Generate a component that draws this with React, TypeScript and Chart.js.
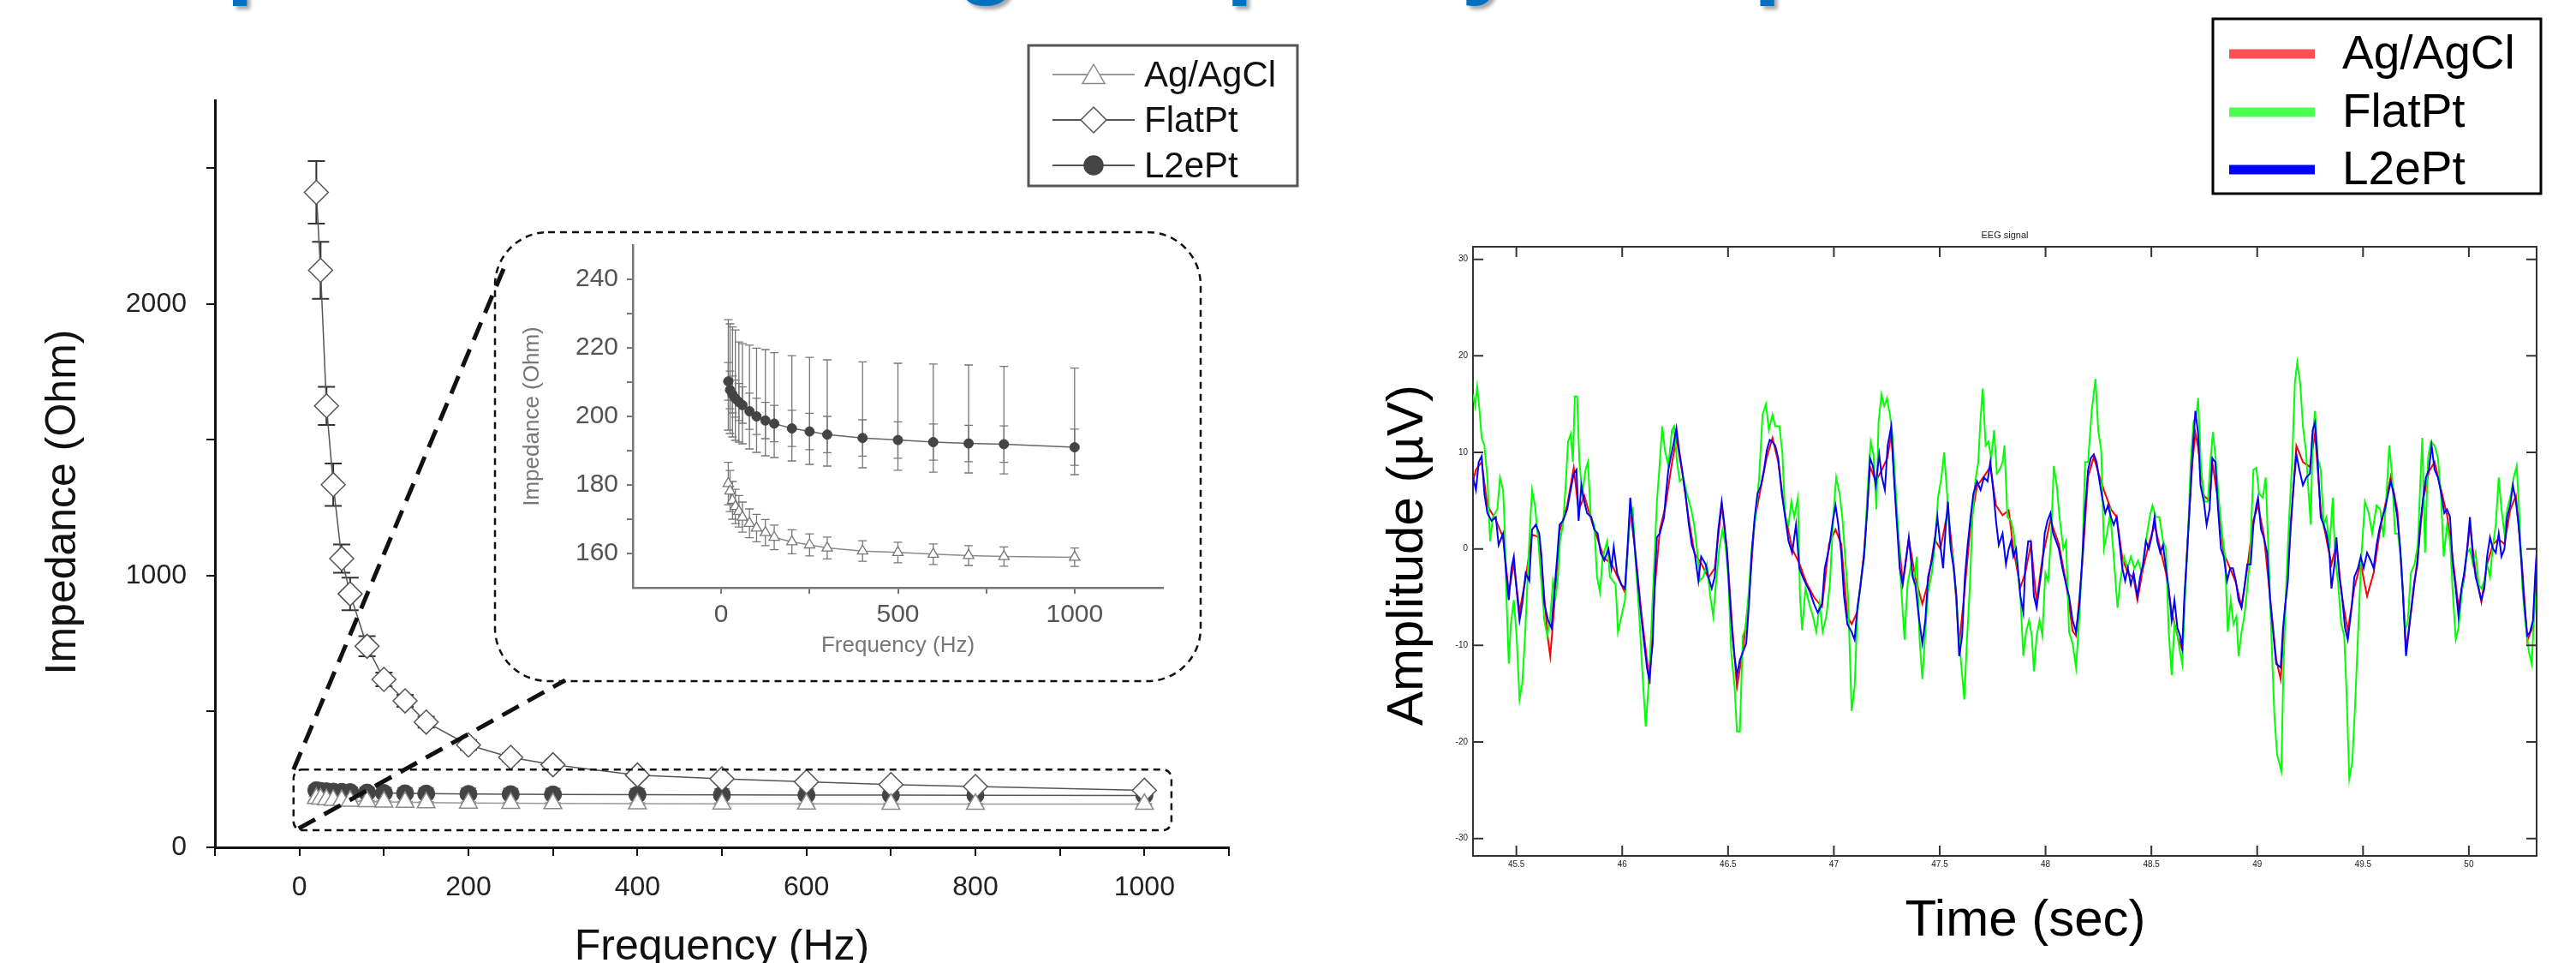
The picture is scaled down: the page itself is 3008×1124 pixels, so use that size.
import React, { useEffect, useRef } from "react";
import { Chart, registerables } from "chart.js";

Chart.register(...registerables);

const W = 3008;
const H = 1124;
const FONT = '"Liberation Sans", Arial, Helvetica, sans-serif';

// ---------------- Impedance (left chart + inset) ----------------
const PAGE_TITLE = "Impedance and signal quality comparison";
const seriesNames = ["Ag/AgCl", "FlatPt", "L2ePt"];
const mainXTitle = "Frequency (Hz)";
const mainYTitle = "Impedance (Ohm)";
const freqHz = [20, 25, 32, 40, 50, 60, 80, 100, 125, 150, 200, 250, 300, 400, 500, 600, 700, 800, 1000];
const flatPt = [2411, 2124, 1625, 1335, 1063, 933, 740, 618, 539, 461, 377, 331, 304, 266, 252, 241, 231, 224, 210];
const flatPtSd = [115, 105, 70, 78, 52, 60, 37, 25, 22, 20, 18, 16, 15, 13, 12, 12, 11, 11, 10];
const agAgCl = [180.4, 178.2, 175.5, 173.7, 172.3, 170.6, 168.8, 167.4, 166.1, 164.7, 163.4, 162.5, 161.6, 160.7, 160.3, 159.8, 159.4, 159.1, 158.9];
const agAgClSd = [6.2, 6.0, 5.5, 5.0, 4.6, 4.4, 4.2, 4.0, 3.8, 3.6, 3.5, 3.2, 3.2, 3.0, 3.0, 3.0, 2.9, 2.8, 2.7];
const l2ePt = [210.2, 207.7, 206.4, 205.2, 204.2, 203.3, 201.5, 200.0, 198.8, 197.9, 196.5, 195.6, 194.7, 193.7, 193.1, 192.5, 192.1, 191.9, 191.0];
const l2ePtLow = [196, 195, 194, 193, 192.5, 192, 190.5, 189.5, 188.5, 188, 187, 186, 185.5, 185, 184.3, 183.7, 183.5, 183.2, 183];
const l2ePtHigh = [228.2, 227, 226.1, 225.2, 221.7, 221.2, 220.8, 219.9, 219.5, 218.6, 217.7, 217.2, 216.5, 215.9, 215.5, 215.3, 215.0, 214.6, 214.1];
const l2ePtSd = [5.5, 5.5, 5.4, 5.4, 5.4, 5.3, 5.3, 5.3, 5.3, 5.3, 5.3, 5.3, 5.3, 5.3, 5.3, 5.3, 5.3, 5.3, 5.3];

const mainXTicks = [-100, 0, 100, 200, 300, 400, 500, 600, 700, 800, 900, 1000, 1100];
const mainXLabels = [0, 200, 400, 600, 800, 1000];
const mainYTicks = [0, 500, 1000, 1500, 2000, 2500];
const mainYLabels = [0, 1000, 2000];
const insetXTicks = [0, 250, 500, 750, 1000];
const insetXLabels = [0, 500, 1000];
const insetYTicks = [160, 170, 180, 190, 200, 210, 220, 230, 240];
const insetYLabels = [160, 180, 200, 220, 240];
const zoomRegion = { xMin: -7, xMax: 1032, yMin: 63, yMax: 286 };

// ---------------- EEG (right chart) ----------------
const eegNames = ["Ag/AgCl", "FlatPt", "L2ePt"];
const eegXTitle = "Time (sec)";
const eegYTitle = "Amplitude (µV)";
const eegXTicks = [45.5, 46, 46.5, 47, 47.5, 48, 48.5, 49, 49.5, 50];
const eegYTicks = [-30, -20, -10, 0, 10, 20, 30];

const eegL2ePt: [number, number][] = [
  [45.295, 7.4], [45.309, 6.1], [45.322, 9.0], [45.336, 9.6], [45.349, 5.7], [45.363, 3.7], [45.383, 2.9], [45.403, 3.3],
  [45.416, 0.4], [45.437, 1.6], [45.45, -2.0], [45.464, -5.3], [45.477, -2.0], [45.488, -0.8], [45.497, -3.3], [45.515, -7.4],
  [45.528, -5.7], [45.544, -2.5], [45.561, -3.3], [45.574, 2.0], [45.592, 2.5], [45.608, 1.6], [45.619, -0.8], [45.632, -5.7],
  [45.65, -7.4], [45.666, -8.2], [45.679, -4.5], [45.693, -0.8], [45.704, 2.5], [45.72, 2.9], [45.74, 4.1], [45.753, 5.7],
  [45.771, 7.8], [45.784, 8.2], [45.794, 2.9], [45.807, 6.6], [45.821, 4.9], [45.834, 3.7], [45.854, 3.3], [45.868, 2.0],
  [45.884, 1.6], [45.898, -0.4], [45.915, -1.2], [45.935, 0], [45.949, -2.0], [45.96, 0.2], [45.976, -2.5], [45.996, -3.7],
  [46.013, -4.1], [46.027, 0.8], [46.038, 5.3], [46.05, 2.5], [46.063, -0.8], [46.077, -4.1], [46.09, -7.0], [46.104, -9.8],
  [46.117, -12.3], [46.127, -13.5], [46.144, -9.8], [46.154, -3.3], [46.164, 1.2], [46.178, 1.6], [46.198, 3.3], [46.205, 5.3],
  [46.218, 8.2], [46.232, 9.8], [46.243, 10.9], [46.256, 12.5], [46.269, 10.2], [46.283, 8.2], [46.299, 5.7], [46.315, 2.5],
  [46.329, 0.4], [46.342, -0.4], [46.36, -3.3], [46.373, -0.8], [46.394, -1.6], [46.407, -2.9], [46.423, -4.1], [46.437, -2.9],
  [46.454, 2.0], [46.47, 4.9], [46.481, 2.9], [46.495, -0.4], [46.508, -4.9], [46.518, -8.2], [46.528, -10.7], [46.542, -13.1],
  [46.556, -11.5], [46.57, -10.7], [46.586, -9.8], [46.599, -5.7], [46.612, -0.4], [46.626, 3.3], [46.639, 5.7], [46.656, 6.6],
  [46.67, 8.2], [46.683, 10.2], [46.697, 11.3], [46.71, 11.1], [46.723, 10.7], [46.737, 9.4], [46.754, 5.7], [46.77, 3.3],
  [46.786, 0.8], [46.803, -0.4], [46.821, 2.5], [46.837, -2.0], [46.853, -2.9], [46.87, -3.7], [46.888, -4.5], [46.906, -5.7],
  [46.924, -6.6], [46.944, -5.7], [46.957, -2.0], [46.977, 0], [46.995, 2.9], [47.008, 4.5], [47.021, 2.5], [47.035, -0.4],
  [47.048, -4.9], [47.064, -7.8], [47.084, -8.6], [47.098, -9.4], [47.111, -6.1], [47.124, -4.1], [47.142, -0.8], [47.158, 4.1],
  [47.171, 9.4], [47.184, 8.6], [47.198, 6.6], [47.214, 9.8], [47.227, 7.4], [47.241, 6.1], [47.254, 10.7], [47.271, 12.7],
  [47.285, 7.0], [47.298, 2.5], [47.311, -2.0], [47.325, -3.7], [47.338, -1.6], [47.354, 1.2], [47.372, -2.9], [47.385, -3.7],
  [47.401, -7.0], [47.418, -9.8], [47.432, -7.4], [47.445, -2.9], [47.463, -1.2], [47.476, 0.8], [47.489, 3.3], [47.503, 0.4],
  [47.516, -2.0], [47.529, 2.5], [47.539, 4.9], [47.552, 0], [47.566, -2.0], [47.579, -4.9], [47.592, -11.1], [47.606, -9.0],
  [47.619, -2.9], [47.632, 0.4], [47.646, 3.3], [47.659, 5.7], [47.676, 7.0], [47.693, 6.1], [47.709, 7.4], [47.726, 7.0],
  [47.739, 9.0], [47.753, 6.1], [47.766, 2.9], [47.779, 0.4], [47.797, 1.6], [47.813, -1.6], [47.826, 0], [47.837, 0.8],
  [47.848, -0.8], [47.861, 0], [47.881, -4.9], [47.895, -6.6], [47.904, -2.0], [47.918, 0.8], [47.931, 0.8], [47.945, -4.9],
  [47.958, -6.1], [47.972, -3.7], [47.985, -1.6], [47.996, 1.6], [48.009, 2.9], [48.023, 3.7], [48.036, 1.6], [48.05, 0.8],
  [48.063, 0], [48.08, -2.0], [48.097, -3.7], [48.111, -4.9], [48.128, -7.4], [48.144, -8.6], [48.16, -5.7], [48.174, -0.8],
  [48.187, 4.1], [48.201, 8.2], [48.214, 9.4], [48.228, 9.8], [48.241, 9.0], [48.255, 7.0], [48.268, 5.3], [48.282, 3.7],
  [48.295, 4.5], [48.309, 3.3], [48.322, 2.5], [48.336, 3.3], [48.349, 0.8], [48.363, -2.0], [48.376, -3.3], [48.389, -2.0],
  [48.403, -3.7], [48.416, -2.5], [48.434, -4.9], [48.447, -2.9], [48.461, -1.6], [48.474, 0.8], [48.488, 0], [48.501, 1.2],
  [48.515, 3.3], [48.528, 0.8], [48.542, -0.4], [48.555, 0.4], [48.569, -2.0], [48.582, -4.1], [48.596, -7.4], [48.609, -5.3],
  [48.623, -8.2], [48.636, -9.0], [48.646, -10.2], [48.656, -4.9], [48.67, 0], [48.683, 5.3], [48.694, 9.8], [48.708, 14.3],
  [48.721, 11.9], [48.732, 6.6], [48.748, 4.9], [48.761, 2.5], [48.775, 4.1], [48.788, 9.4], [48.802, 9.0], [48.815, 4.1],
  [48.829, 0], [48.842, -0.8], [48.858, -3.3], [48.872, -2.0], [48.885, -2.0], [48.899, -3.3], [48.912, -5.3], [48.926, -6.1],
  [48.939, -4.1], [48.953, -1.6], [48.969, -1.6], [48.982, 2.5], [48.996, 4.5], [49.004, 5.3], [49.018, 2.0], [49.031, 1.2],
  [49.047, -0.4], [49.061, -5.3], [49.077, -9.0], [49.09, -11.9], [49.111, -12.3], [49.122, -8.2], [49.131, -6.1], [49.145, -3.3],
  [49.158, 2.5], [49.172, 6.6], [49.185, 9.8], [49.199, 8.2], [49.216, 6.6], [49.232, 7.4], [49.249, 7.8], [49.262, 12.3],
  [49.273, 13.1], [49.286, 9.0], [49.3, 3.3], [49.314, 2.5], [49.327, 1.6], [49.341, -0.4], [49.351, -4.1], [49.365, -1.6],
  [49.374, 1.2], [49.388, -2.9], [49.401, -4.9], [49.415, -8.2], [49.428, -9.4], [49.446, -6.1], [49.459, -2.9], [49.476, -2.0],
  [49.489, -0.8], [49.503, -2.0], [49.519, -0.4], [49.536, -1.2], [49.55, -2.0], [49.564, 0.4], [49.577, 2.0], [49.591, 3.3],
  [49.604, 4.1], [49.618, 5.7], [49.631, 7.0], [49.645, 5.7], [49.662, 3.3], [49.676, 0], [49.689, -4.9], [49.703, -11.1],
  [49.716, -8.6], [49.73, -5.7], [49.743, -3.3], [49.757, -1.6], [49.77, 2.5], [49.784, 5.3], [49.797, 7.4], [49.811, 8.2],
  [49.824, 10.7], [49.838, 8.2], [49.854, 7.4], [49.87, 5.7], [49.884, 3.7], [49.897, 4.1], [49.911, 3.3], [49.924, -1.6],
  [49.938, -4.1], [49.951, -7.0], [49.965, -4.1], [49.978, -2.5], [49.992, 0], [50.005, 3.3], [50.019, -0.8], [50.032, -2.9],
  [50.046, -4.1], [50.059, -5.3], [50.073, -4.1], [50.086, -0.8], [50.1, 1.2], [50.114, 0], [50.127, -0.4], [50.141, 1.6],
  [50.154, -0.8], [50.168, 0], [50.181, 3.3], [50.195, 4.5], [50.208, 6.6], [50.222, 4.9], [50.235, 2.5], [50.249, -1.6],
  [50.262, -5.7], [50.276, -9.0], [50.289, -8.6], [50.303, -7.4], [50.314, -2.5], [50.32, -0.4],
];

const eegFlatPt: [number, number][] = [
  [45.295, 16.0], [45.305, 14.8], [45.315, 16.8], [45.326, 14.3], [45.336, 11.5], [45.349, 10.7], [45.363, 7.4], [45.376, 0.8],
  [45.389, 3.3], [45.41, 4.1], [45.423, 7.4], [45.437, 6.1], [45.443, 3.3], [45.453, -4.9], [45.464, -11.9], [45.474, -7.8],
  [45.488, -5.3], [45.501, -9.0], [45.515, -15.6], [45.528, -13.9], [45.542, -8.6], [45.555, -2.0], [45.565, 2.5], [45.574, 6.1],
  [45.588, 4.5], [45.605, 0.4], [45.619, -3.7], [45.632, -7.4], [45.646, -9.0], [45.659, -7.4], [45.673, -3.3], [45.686, -4.9],
  [45.695, -3.3], [45.706, 0.8], [45.72, 2.5], [45.733, 6.6], [45.744, 11.1], [45.757, 11.9], [45.767, 9.0], [45.776, 15.8],
  [45.787, 15.8], [45.798, 9.0], [45.811, 5.7], [45.827, 8.2], [45.838, 9.0], [45.852, 3.3], [45.868, 2.5], [45.881, -2.9],
  [45.895, -4.5], [45.908, -0.8], [45.929, 0.8], [45.942, -2.9], [45.956, -3.3], [45.969, -3.7], [45.98, -8.6], [45.996, -7.0],
  [46.013, -5.3], [46.024, -0.8], [46.036, 3.3], [46.05, 4.1], [46.063, -1.2], [46.081, -7.0], [46.094, -12.3], [46.111, -18.4],
  [46.124, -14.3], [46.137, -8.6], [46.151, -1.6], [46.164, 4.9], [46.175, 8.2], [46.189, 12.7], [46.202, 10.2], [46.218, 8.6],
  [46.235, 12.3], [46.245, 12.7], [46.259, 9.0], [46.272, 7.0], [46.288, 7.4], [46.306, 5.7], [46.326, 4.1], [46.34, 2.5],
  [46.353, 0], [46.367, -3.3], [46.383, -2.9], [46.4, -1.6], [46.416, -4.9], [46.43, -7.0], [46.441, -4.1], [46.458, 0],
  [46.474, 2.0], [46.488, 0.4], [46.501, -2.9], [46.515, -10.7], [46.531, -14.3], [46.542, -18.9], [46.556, -18.9], [46.57, -9.0],
  [46.583, -8.2], [46.599, -4.1], [46.612, 0], [46.63, 3.3], [46.647, 7.4], [46.663, 13.9], [46.679, 15.0], [46.693, 12.3],
  [46.71, 13.9], [46.723, 12.7], [46.743, 12.7], [46.757, 9.8], [46.77, 3.3], [46.786, 2.5], [46.799, 4.9], [46.813, 3.3],
  [46.83, 5.3], [46.84, -4.9], [46.85, -8.4], [46.866, -4.1], [46.884, -5.7], [46.901, -7.0], [46.917, -8.6], [46.933, -5.7],
  [46.947, -8.6], [46.964, -7.0], [46.981, -3.7], [46.997, 3.3], [47.011, 7.4], [47.027, 5.7], [47.04, 3.3], [47.053, -0.8],
  [47.067, -4.9], [47.084, -16.8], [47.098, -14.3], [47.111, -6.6], [47.128, -3.3], [47.144, -0.8], [47.158, 5.7], [47.174, 11.1],
  [47.187, 9.8], [47.201, 4.1], [47.211, 13.1], [47.225, 16.0], [47.238, 14.8], [47.251, 15.6], [47.265, 13.9], [47.278, 11.5],
  [47.291, 6.6], [47.305, 1.6], [47.318, -4.1], [47.334, -9.4], [47.348, -3.7], [47.365, -1.6], [47.378, -3.3], [47.392, -0.8],
  [47.405, -9.4], [47.418, -13.5], [47.432, -8.6], [47.445, -4.5], [47.463, -2.5], [47.479, 0.8], [47.492, 5.3], [47.508, 7.4],
  [47.521, 10.0], [47.535, 5.7], [47.548, 0.8], [47.561, -0.8], [47.575, -4.1], [47.592, -9.4], [47.606, -13.1], [47.616, -15.6],
  [47.628, -9.8], [47.642, -4.1], [47.655, 3.3], [47.668, 7.0], [47.682, 9.0], [47.693, 13.5], [47.703, 16.6], [47.717, 10.7],
  [47.73, 11.1], [47.743, 9.4], [47.757, 12.3], [47.77, 7.8], [47.783, 8.2], [47.797, 9.0], [47.806, 10.7], [47.82, 3.3],
  [47.837, 2.9], [47.85, 1.6], [47.868, -2.0], [47.881, -4.9], [47.895, -11.1], [47.908, -8.6], [47.922, -7.4], [47.935, -9.0],
  [47.945, -12.7], [47.958, -9.0], [47.972, -7.4], [47.985, -9.0], [47.999, -2.5], [48.012, -3.3], [48.026, 1.2], [48.039, 8.6],
  [48.053, 6.6], [48.066, 3.3], [48.084, 0], [48.097, 0.8], [48.111, -8.6], [48.128, -9.8], [48.144, -12.3], [48.16, -7.0],
  [48.174, -0.8], [48.187, 9.0], [48.201, 9.0], [48.218, 14.3], [48.236, 17.6], [48.249, 12.3], [48.263, 10.2], [48.276, 0],
  [48.29, 1.6], [48.306, 3.7], [48.322, -0.8], [48.34, -6.1], [48.353, -3.3], [48.371, -0.8], [48.387, -2.0], [48.403, -0.8],
  [48.42, -2.0], [48.438, -1.2], [48.454, -2.5], [48.474, 0.8], [48.492, 3.3], [48.505, 4.5], [48.522, 3.3], [48.538, 3.3],
  [48.555, 0.8], [48.569, 0], [48.582, -8.6], [48.596, -13.1], [48.609, -7.8], [48.623, -9.0], [48.636, -10.7], [48.646, -11.9],
  [48.659, -4.9], [48.672, 0.8], [48.686, 9.0], [48.699, 13.1], [48.713, 13.9], [48.721, 15.6], [48.735, 8.2], [48.751, 4.9],
  [48.767, 4.9], [48.78, 9.4], [48.791, 12.1], [48.805, 9.0], [48.818, 5.3], [48.834, 1.6], [48.848, -0.8], [48.861, -8.6],
  [48.875, -5.3], [48.888, -7.8], [48.902, -7.0], [48.912, -11.1], [48.926, -8.6], [48.939, -7.0], [48.953, -4.1], [48.966, -0.8],
  [48.982, 8.2], [48.996, 8.4], [49.009, 5.7], [49.027, 5.3], [49.04, 7.4], [49.054, -0.8], [49.067, -9.0], [49.081, -17.2],
  [49.094, -21.3], [49.114, -23.0], [49.124, -12.3], [49.138, -3.3], [49.151, 3.3], [49.165, 9.0], [49.178, 17.2], [49.189, 19.3],
  [49.203, 17.2], [49.216, 12.7], [49.23, 10.2], [49.243, 5.7], [49.253, 2.5], [49.262, 11.5], [49.273, 14.3], [49.286, 9.4],
  [49.3, 8.2], [49.314, 2.5], [49.327, 3.3], [49.341, 0], [49.357, 5.3], [49.368, -0.8], [49.381, -3.3], [49.397, -7.8],
  [49.411, -9.0], [49.422, -14.8], [49.435, -23.8], [49.449, -22.1], [49.462, -16.4], [49.476, -9.0], [49.492, -0.8], [49.509, 4.9],
  [49.527, 3.7], [49.543, 1.6], [49.564, 4.5], [49.581, 4.1], [49.597, 1.2], [49.611, 5.7], [49.624, 10.7], [49.638, 7.4],
  [49.651, 1.6], [49.665, 1.6], [49.681, -1.6], [49.699, -8.6], [49.712, -7.4], [49.726, -2.5], [49.743, -1.6], [49.759, 0.4],
  [49.77, 6.6], [49.78, 11.5], [49.793, -0.4], [49.807, 9.4], [49.82, 11.1], [49.838, 10.7], [49.854, 9.4], [49.868, 5.7],
  [49.881, -0.8], [49.897, 2.5], [49.911, 0.8], [49.924, -4.5], [49.938, -9.4], [49.951, -8.2], [49.965, -4.9], [49.978, -2.5],
  [49.992, -0.4], [50.005, 0], [50.019, -1.6], [50.032, -0.4], [50.046, -3.7], [50.059, -4.1], [50.073, -3.3], [50.086, -1.6],
  [50.1, -2.9], [50.114, 0.4], [50.127, 2.5], [50.141, 7.4], [50.154, 4.1], [50.168, 1.6], [50.181, 4.1], [50.199, 5.7],
  [50.212, 7.4], [50.226, 8.6], [50.239, 3.3], [50.253, -4.1], [50.266, -7.4], [50.284, -10.7], [50.297, -11.9], [50.307, -7.4],
  [50.32, -3.7],
];

const eegAgAgCl: [number, number][] = [
  [45.295, 7.0], [45.309, 8.2], [45.336, 9.0], [45.363, 4.5], [45.403, 3.0], [45.437, 1.2], [45.464, -4.5], [45.488, -1.5],
  [45.515, -6.5], [45.544, -3.0], [45.574, 1.5], [45.608, 1.2], [45.632, -5.0], [45.65, -9.5], [45.66, -11.1], [45.679, -6.0],
  [45.704, 1.8], [45.74, 4.5], [45.771, 8.4], [45.794, 4.0], [45.821, 5.5], [45.854, 3.0], [45.884, 1.0], [45.915, -1.0],
  [45.949, -1.5], [45.976, -2.8], [46.013, -4.5], [46.038, 4.0], [46.063, -0.5], [46.09, -6.5], [46.117, -11.5], [46.13, -14.0],
  [46.154, -4.0], [46.178, 2.0], [46.205, 4.5], [46.232, 8.5], [46.256, 11.5], [46.283, 8.0], [46.315, 3.0], [46.342, -0.5],
  [46.373, -1.5], [46.407, -3.0], [46.437, -2.0], [46.47, 4.5], [46.495, 0], [46.518, -7.5], [46.542, -14.3], [46.57, -10.5],
  [46.599, -5.0], [46.626, 3.0], [46.656, 6.5], [46.683, 9.5], [46.71, 11.5], [46.737, 9.0], [46.77, 3.5], [46.803, 0],
  [46.837, -1.5], [46.87, -3.5], [46.906, -5.0], [46.944, -6.0], [46.977, 0.5], [47.008, 2.0], [47.035, 0.5], [47.064, -7.0],
  [47.084, -7.8], [47.111, -6.5], [47.142, -0.5], [47.171, 8.5], [47.198, 7.0], [47.227, 8.2], [47.254, 9.5], [47.271, 12.0],
  [47.298, 3.0], [47.325, -3.5], [47.354, 1.0], [47.385, -3.0], [47.418, -5.7], [47.445, -3.5], [47.476, 1.0], [47.503, 0],
  [47.539, 4.0], [47.566, -1.5], [47.592, -10.0], [47.619, -4.0], [47.646, 2.5], [47.676, 6.5], [47.709, 7.5], [47.739, 8.5],
  [47.766, 4.5], [47.797, 3.5], [47.826, 4.0], [47.848, 0], [47.881, -4.0], [47.904, -2.5], [47.931, 0.5], [47.958, -5.5],
  [47.985, -1.0], [48.023, 3.0], [48.063, 0.5], [48.097, -3.5], [48.128, -8.5], [48.144, -9.0], [48.174, -1.5], [48.201, 7.5],
  [48.228, 9.5], [48.255, 7.5], [48.282, 5.7], [48.309, 4.1], [48.336, 3.3], [48.363, -1.0], [48.389, -2.5], [48.416, -3.0],
  [48.434, -5.3], [48.461, -2.0], [48.488, 0.5], [48.515, 2.5], [48.542, 0], [48.569, -2.5], [48.596, -6.5], [48.623, -9.0],
  [48.646, -10.5], [48.67, 0.5], [48.694, 9.0], [48.708, 12.0], [48.721, 10.5], [48.748, 5.5], [48.775, 5.0], [48.788, 9.0],
  [48.815, 5.0], [48.842, -0.5], [48.872, -2.0], [48.899, -3.5], [48.926, -6.0], [48.953, -2.0], [48.982, 3.0], [49.004, 4.5],
  [49.031, 1.5], [49.061, -5.0], [49.09, -11.5], [49.111, -13.5], [49.131, -6.5], [49.158, 2.0], [49.185, 10.7], [49.216, 9.0],
  [49.249, 8.5], [49.273, 12.0], [49.3, 4.0], [49.327, 1.0], [49.351, -1.6], [49.374, 0.5], [49.401, -5.0], [49.428, -8.5],
  [49.459, -4.0], [49.489, -1.5], [49.519, -4.9], [49.55, -2.5], [49.577, 1.5], [49.604, 4.5], [49.631, 7.5], [49.662, 4.0],
  [49.689, -4.5], [49.703, -10.5], [49.73, -6.0], [49.757, -1.0], [49.784, 5.0], [49.811, 8.0], [49.838, 9.0], [49.87, 6.0],
  [49.897, 3.5], [49.924, -1.0], [49.951, -6.0], [49.978, -3.0], [50.005, 2.5], [50.032, -2.5], [50.059, -5.5], [50.086, -1.6],
  [50.114, 0.5], [50.141, 1.0], [50.168, 0.5], [50.195, 4.0], [50.222, 5.5], [50.249, -1.0], [50.276, -9.5], [50.303, -8.0],
  [50.32, -1.0],
];

// ---------------- helpers ----------------
function roundRectPath(ctx: CanvasRenderingContext2D, x: number, y: number, w: number, h: number, r: number) {
  ctx.beginPath();
  ctx.moveTo(x + r, y);
  ctx.lineTo(x + w - r, y);
  ctx.arcTo(x + w, y, x + w, y + r, r);
  ctx.lineTo(x + w, y + h - r);
  ctx.arcTo(x + w, y + h, x + w - r, y + h, r);
  ctx.lineTo(x + r, y + h);
  ctx.arcTo(x, y + h, x, y + h - r, r);
  ctx.lineTo(x, y + r);
  ctx.arcTo(x, y, x + r, y, r);
  ctx.closePath();
}

function drawMarker(ctx: CanvasRenderingContext2D, style: string, x: number, y: number, r: number, fill: string, stroke: string, lw: number) {
  ctx.beginPath();
  if (style === "triangle") {
    ctx.moveTo(x, y - r);
    ctx.lineTo(x + r * 0.866, y + r * 0.5);
    ctx.lineTo(x - r * 0.866, y + r * 0.5);
    ctx.closePath();
  } else if (style === "rectRot") {
    ctx.moveTo(x - r, y);
    ctx.lineTo(x, y - r);
    ctx.lineTo(x + r, y);
    ctx.lineTo(x, y + r);
    ctx.closePath();
  } else {
    ctx.arc(x, y, r, 0, Math.PI * 2);
  }
  ctx.fillStyle = fill;
  ctx.fill();
  ctx.lineWidth = lw;
  ctx.strokeStyle = stroke;
  ctx.stroke();
}

function drawRotatedText(ctx: CanvasRenderingContext2D, text: string, x: number, y: number, font: string, color: string, rot: number) {
  ctx.save();
  ctx.translate(x, y);
  ctx.rotate(rot);
  ctx.font = font;
  ctx.fillStyle = color;
  ctx.textAlign = "center";
  ctx.textBaseline = "middle";
  ctx.fillText(text, 0, 0);
  ctx.restore();
}

const errorBarPlugin = {
  id: "errorBars",
  beforeDatasetsDraw(chart: any) {
    const { ctx } = chart;
    const ys = chart.scales.y;
    chart.data.datasets.forEach((ds: any, i: number) => {
      if (!ds.errorBars) return;
      const meta = chart.getDatasetMeta(i);
      ctx.save();
      for (const b of ds.errorBars) {
        ctx.strokeStyle = b.color;
        ctx.lineWidth = b.width;
        meta.data.forEach((pt: any, j: number) => {
          const x = pt.x;
          const y1 = ys.getPixelForValue(b.low[j]);
          const y2 = ys.getPixelForValue(b.high[j]);
          ctx.beginPath();
          ctx.moveTo(x, y1);
          ctx.lineTo(x, y2);
          ctx.moveTo(x - b.cap, y1);
          ctx.lineTo(x + b.cap, y1);
          ctx.moveTo(x - b.cap, y2);
          ctx.lineTo(x + b.cap, y2);
          ctx.stroke();
        });
      }
      ctx.restore();
    });
  },
};

const mainDecorPlugin = {
  id: "mainDecor",
  afterDraw(chart: any) {
    const { ctx } = chart;
    const xs = chart.scales.x;
    const ys = chart.scales.y;
    ctx.save();
    // slide title (only its descenders are inside the picture)
    ctx.font = `bold 118px ${FONT}`;
    ctx.fillStyle = "#0070C0";
    ctx.shadowColor = "rgba(0,0,0,0.35)";
    ctx.shadowOffsetX = 4;
    ctx.shadowOffsetY = 4;
    ctx.shadowBlur = 4;
    ctx.textBaseline = "alphabetic";
    ctx.textAlign = "left";
    ctx.fillText(PAGE_TITLE, 126, -18);
    ctx.restore();

    // y-axis title, placed where the figure has it
    drawRotatedText(ctx, mainYTitle, 74, 586, `50px ${FONT}`, "#111", -Math.PI / 2);

    ctx.save();
    // dashed zoom region on the main chart
    const zx1 = xs.getPixelForValue(zoomRegion.xMin);
    const zx2 = xs.getPixelForValue(zoomRegion.xMax);
    const zy1 = ys.getPixelForValue(zoomRegion.yMax);
    const zy2 = ys.getPixelForValue(zoomRegion.yMin);
    ctx.strokeStyle = "#111";
    ctx.lineWidth = 2.5;
    ctx.setLineDash([8, 6]);
    roundRectPath(ctx, zx1, zy1, zx2 - zx1, zy2 - zy1, 10);
    ctx.stroke();
    // inset frame
    roundRectPath(ctx, 578, 271, 824, 524, 62);
    ctx.stroke();
    // connector lines
    ctx.lineWidth = 5;
    ctx.setLineDash([22, 12]);
    ctx.beginPath();
    ctx.moveTo(zx1, zy1);
    ctx.lineTo(590, 309);
    ctx.moveTo(zx1 + 6, zy2 - 2);
    ctx.lineTo(660, 794);
    ctx.stroke();
    ctx.setLineDash([]);

    // legend
    const lx = 1201, ly = 53, lw = 314, lh = 164;
    ctx.fillStyle = "#fff";
    ctx.fillRect(lx, ly, lw, lh);
    ctx.strokeStyle = "#555";
    ctx.lineWidth = 3;
    ctx.strokeRect(lx, ly, lw, lh);
    const rows = [87, 140, 193];
    chart.data.datasets.forEach((ds: any, i: number) => {
      const y = rows[i];
      ctx.strokeStyle = ds.borderColor;
      ctx.lineWidth = 2;
      ctx.beginPath();
      ctx.moveTo(1229, y);
      ctx.lineTo(1325, y);
      ctx.stroke();
      const r = ds.pointStyle === "circle" ? 11 : 15;
      drawMarker(ctx, ds.pointStyle, 1277, y + (ds.pointStyle === "triangle" ? 3 : 0), r, ds.pointBackgroundColor, ds.pointBorderColor, 1.5);
      ctx.fillStyle = "#111";
      ctx.font = `42px ${FONT}`;
      ctx.textBaseline = "middle";
      ctx.textAlign = "left";
      ctx.fillText(ds.label, 1336, y + 2);
    });
    ctx.restore();
  },
};

const eegDecorPlugin = {
  id: "eegDecor",
  afterDraw(chart: any) {
    const { ctx, chartArea } = chart;
    const xs = chart.scales.x;
    const ys = chart.scales.y;
    const { left, right, top, bottom } = chartArea;
    ctx.save();
    ctx.strokeStyle = "#333";
    ctx.lineWidth = 2;
    ctx.beginPath();
    ctx.moveTo(left, top);
    ctx.lineTo(right, top);
    ctx.lineTo(right, bottom);
    ctx.stroke();
    const tl = 12;
    ctx.beginPath();
    for (const v of eegXTicks) {
      const px = xs.getPixelForValue(v);
      ctx.moveTo(px, bottom);
      ctx.lineTo(px, bottom - tl);
      ctx.moveTo(px, top);
      ctx.lineTo(px, top + tl);
    }
    for (const v of eegYTicks) {
      const py = ys.getPixelForValue(v);
      ctx.moveTo(left, py);
      ctx.lineTo(left + tl, py);
      ctx.moveTo(right, py);
      ctx.lineTo(right - tl, py);
    }
    ctx.stroke();
    // small title
    ctx.fillStyle = "#222";
    ctx.font = `11px ${FONT}`;
    ctx.textAlign = "center";
    ctx.textBaseline = "middle";
    ctx.fillText("EEG signal", (left + right) / 2, top - 13);
    ctx.restore();

    // axis titles, placed where the figure has them
    drawRotatedText(ctx, eegXTitle, 2365, 1075, `60px ${FONT}`, "#000", 0);
    drawRotatedText(ctx, eegYTitle, 1644, 648, `60px ${FONT}`, "#000", -Math.PI / 2);

    ctx.save();
    // legend
    const bx = 2584, by = 22, bw = 383, bh = 204;
    ctx.fillStyle = "#fff";
    ctx.fillRect(bx, by, bw, bh);
    ctx.strokeStyle = "#000";
    ctx.lineWidth = 3;
    ctx.strokeRect(bx, by, bw, bh);
    const rows = [63, 131, 198];
    const legendColors = ["#ff5050", "#4dff4d", "#0000ff"];
    eegNames.forEach((name, i) => {
      const y = rows[i];
      ctx.strokeStyle = legendColors[i];
      ctx.lineWidth = 11;
      ctx.beginPath();
      ctx.moveTo(2603, y);
      ctx.lineTo(2703, y);
      ctx.stroke();
      ctx.fillStyle = "#000";
      ctx.font = `55px ${FONT}`;
      ctx.textAlign = "left";
      ctx.textBaseline = "middle";
      ctx.fillText(name, 2735, y + 2);
    });
    ctx.restore();
  },
};

function pts(xs: number[], ys: number[]) {
  return xs.map((x, i) => ({ x, y: ys[i] }));
}
function band(vals: number[], sd: number[]) {
  return { low: vals.map((v, i) => v - sd[i]), high: vals.map((v, i) => v + sd[i]) };
}

function mainConfig(): any {
  return {
    type: "line",
    data: {
      datasets: [
        {
          label: seriesNames[0],
          data: pts(freqHz, agAgCl),
          borderColor: "#9a9a9a",
          borderWidth: 1.5,
          pointStyle: "triangle",
          pointRadius: 12,
          pointBackgroundColor: "#ffffff",
          pointBorderColor: "#8a8a8a",
          pointBorderWidth: 1.5,
          clip: false,
          errorBars: [{ ...band(agAgCl, agAgClSd), color: "#999", cap: 9, width: 1.5 }],
        },
        {
          label: seriesNames[1],
          data: pts(freqHz, flatPt),
          borderColor: "#555",
          borderWidth: 1.5,
          pointStyle: "rectRot",
          pointRadius: 14,
          pointBackgroundColor: "#ffffff",
          pointBorderColor: "#555",
          pointBorderWidth: 1.5,
          clip: false,
          errorBars: [{ ...band(flatPt, flatPtSd), color: "#333", cap: 10, width: 2 }],
        },
        {
          label: seriesNames[2],
          data: pts(freqHz, l2ePt),
          borderColor: "#555",
          borderWidth: 1.5,
          pointStyle: "circle",
          pointRadius: 10,
          pointBackgroundColor: "#444",
          pointBorderColor: "#444",
          pointBorderWidth: 1,
          clip: false,
          errorBars: [{ low: l2ePtLow, high: l2ePtHigh, color: "#777", cap: 9, width: 1.5 }],
        },
      ],
    },
    options: {
      responsive: false,
      animation: false,
      devicePixelRatio: 1,
      layout: { padding: { left: 0, top: 117, right: W - 1435, bottom: 0 } },
      plugins: { legend: { display: false }, tooltip: { enabled: false } },
      scales: {
        x: {
          type: "linear",
          min: -100,
          max: 1100,
          afterBuildTicks: (s: any) => {
            s.ticks = mainXTicks.map((v) => ({ value: v }));
          },
          afterFit: (s: any) => {
            s.height = 135;
          },
          ticks: {
            autoSkip: false,
            maxRotation: 0,
            padding: 18,
            color: "#222",
            font: { family: FONT, size: 32 },
            callback: (v: number) => (mainXLabels.includes(v) ? String(v) : ""),
          },
          grid: { display: true, drawOnChartArea: false, drawTicks: true, tickLength: 10, color: "#111", lineWidth: 2 },
          border: { display: true, color: "#111", width: 3 },
          title: { display: true, text: mainXTitle, color: "#111", font: { family: FONT, size: 50 }, padding: { top: 0, bottom: -12 } },
        },
        y: {
          type: "linear",
          min: 0,
          max: 2750,
          afterBuildTicks: (s: any) => {
            s.ticks = mainYTicks.map((v) => ({ value: v }));
          },
          afterFit: (s: any) => {
            s.width = 251;
          },
          ticks: {
            autoSkip: false,
            padding: 23,
            color: "#222",
            font: { family: FONT, size: 32 },
            callback: (v: number) => (mainYLabels.includes(v) ? String(v) : ""),
          },
          grid: { display: true, drawOnChartArea: false, drawTicks: true, tickLength: 10, color: "#111", lineWidth: 2 },
          border: { display: true, color: "#111", width: 3 },
          title: { display: false, text: mainYTitle },
        },
      },
    },
    plugins: [errorBarPlugin, mainDecorPlugin],
  };
}

function insetConfig(): any {
  return {
    type: "line",
    data: {
      datasets: [
        {
          label: seriesNames[0],
          data: pts(freqHz, agAgCl),
          borderColor: "#8a8a8a",
          borderWidth: 1.5,
          pointStyle: "triangle",
          pointRadius: 7,
          pointBackgroundColor: "#ffffff",
          pointBorderColor: "#777",
          pointBorderWidth: 1.3,
          clip: false,
          errorBars: [{ ...band(agAgCl, agAgClSd), color: "#777", cap: 5, width: 1.3 }],
        },
        {
          label: seriesNames[2],
          data: pts(freqHz, l2ePt),
          borderColor: "#666",
          borderWidth: 1.5,
          pointStyle: "circle",
          pointRadius: 5.5,
          pointBackgroundColor: "#444",
          pointBorderColor: "#444",
          pointBorderWidth: 1,
          clip: false,
          errorBars: [
            { low: l2ePtLow, high: l2ePtHigh, color: "#777", cap: 5, width: 1.3 },
            { ...band(l2ePt, l2ePtSd), color: "#777", cap: 5, width: 1.3 },
          ],
        },
      ],
    },
    options: {
      responsive: false,
      animation: false,
      devicePixelRatio: 1,
      layout: { padding: { left: 579, top: 286, right: W - 1358, bottom: 338 } },
      plugins: { legend: { display: false }, tooltip: { enabled: false } },
      scales: {
        x: {
          type: "linear",
          min: -250,
          max: 1250,
          afterBuildTicks: (s: any) => {
            s.ticks = insetXTicks.map((v) => ({ value: v }));
          },
          afterFit: (s: any) => {
            s.height = 100;
          },
          ticks: {
            autoSkip: false,
            maxRotation: 0,
            padding: 7,
            color: "#555",
            font: { family: FONT, size: 30 },
            callback: (v: number) => (insetXLabels.includes(v) ? String(v) : ""),
          },
          grid: { display: true, drawOnChartArea: false, drawTicks: true, tickLength: 7, color: "#777", lineWidth: 2 },
          border: { display: true, color: "#777", width: 2.5 },
          title: { display: true, text: mainXTitle, color: "#777", font: { family: FONT, size: 26 }, padding: { top: 0, bottom: 17 } },
        },
        y: {
          type: "linear",
          min: 150,
          max: 250,
          afterBuildTicks: (s: any) => {
            s.ticks = insetYTicks.map((v) => ({ value: v }));
          },
          afterFit: (s: any) => {
            s.width = 160;
          },
          ticks: {
            autoSkip: false,
            padding: 10,
            color: "#555",
            font: { family: FONT, size: 30 },
            callback: (v: number) => (insetYLabels.includes(v) ? String(v) : ""),
          },
          grid: { display: true, drawOnChartArea: false, drawTicks: true, tickLength: 7, color: "#777", lineWidth: 2 },
          border: { display: true, color: "#777", width: 2.5 },
          title: { display: true, text: mainYTitle, color: "#777", font: { family: FONT, size: 26 }, padding: { top: 27, bottom: 0 } },
        },
      },
    },
    plugins: [errorBarPlugin],
  };
}

function eegConfig(): any {
  const mk = (label: string, data: [number, number][], color: string, order: number) => ({
    label,
    data: data.map(([x, y]) => ({ x, y })),
    borderColor: color,
    borderWidth: 2,
    pointRadius: 0,
    tension: 0,
    order,
  });
  return {
    type: "line",
    data: {
      datasets: [
        mk(eegNames[0], eegAgAgCl, "#ff0000", 3),
        mk(eegNames[1], eegFlatPt, "#00ff00", 2),
        mk(eegNames[2], eegL2ePt, "#0000ff", 1),
      ],
    },
    options: {
      responsive: false,
      animation: false,
      devicePixelRatio: 1,
      layout: { padding: { left: 1560, top: 288, right: W - 2962, bottom: 0 } },
      plugins: { legend: { display: false }, tooltip: { enabled: false } },
      scales: {
        x: {
          type: "linear",
          min: 45.295,
          max: 50.32,
          afterBuildTicks: (s: any) => {
            s.ticks = eegXTicks.map((v) => ({ value: v }));
          },
          afterFit: (s: any) => {
            s.height = 125;
          },
          ticks: { autoSkip: false, maxRotation: 0, padding: 4, color: "#222", font: { family: FONT, size: 10 }, callback: (v: number) => String(v) },
          grid: { display: false, drawTicks: false },
          border: { display: true, color: "#333", width: 2 },
          title: { display: false, text: eegXTitle },
        },
        y: {
          type: "linear",
          min: -31.8,
          max: 31.3,
          afterBuildTicks: (s: any) => {
            s.ticks = eegYTicks.map((v) => ({ value: v }));
          },
          afterFit: (s: any) => {
            s.width = 160;
          },
          ticks: { autoSkip: false, padding: 6, color: "#222", font: { family: FONT, size: 10 }, callback: (v: number) => String(v) },
          grid: { display: false, drawTicks: false },
          border: { display: true, color: "#333", width: 2 },
          title: { display: false, text: eegYTitle },
        },
      },
    },
    plugins: [eegDecorPlugin],
  };
}

export default function App() {
  const mainRef = useRef<HTMLCanvasElement | null>(null);
  const insetRef = useRef<HTMLCanvasElement | null>(null);
  const eegRef = useRef<HTMLCanvasElement | null>(null);

  useEffect(() => {
    const charts = [
      new Chart(mainRef.current as HTMLCanvasElement, mainConfig()),
      new Chart(insetRef.current as HTMLCanvasElement, insetConfig()),
      new Chart(eegRef.current as HTMLCanvasElement, eegConfig()),
    ];
    return () => charts.forEach((c) => c.destroy());
  }, []);

  const cs: React.CSSProperties = { position: "absolute", left: 0, top: 0, width: W, height: H, pointerEvents: "none" };
  return (
    <div style={{ position: "absolute", left: 0, top: 0, width: W, height: H, overflow: "hidden", background: "#fff" }}>
      <canvas ref={mainRef} width={W} height={H} style={cs} />
      <canvas ref={insetRef} width={W} height={H} style={cs} />
      <canvas ref={eegRef} width={W} height={H} style={cs} />
    </div>
  );
}
